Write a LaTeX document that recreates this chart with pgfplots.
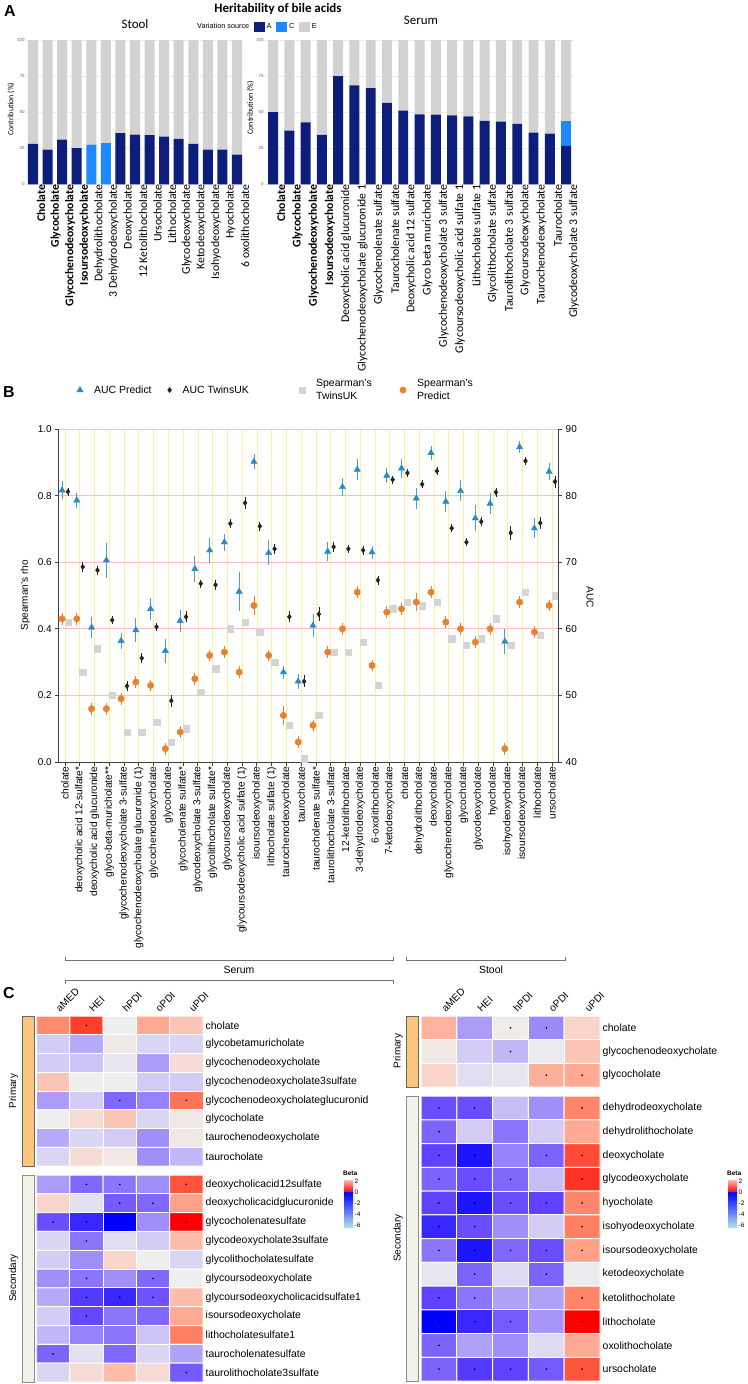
\documentclass[border=0pt]{standalone}
\usepackage{pgfplots}
\pgfplotsset{compat=1.18}
\usepackage{pgfplotstable}
\usepackage{fontspec}
\setmainfont{Liberation Sans}
\newfontfamily\calibri{Carlito}
\newcommand{\fs}[1]{\fontsize{#1}{#1}\selectfont}
\definecolor{cA}{RGB}{13,29,122}
\definecolor{cC}{RGB}{30,136,255}
\definecolor{cE}{RGB}{210,210,210}
\definecolor{triB}{RGB}{38,139,204}
\definecolor{triE}{RGB}{70,160,215}
\definecolor{orgS}{RGB}{233,128,46}
\definecolor{grS}{RGB}{212,212,212}
\definecolor{dia}{RGB}{35,35,35}
\definecolor{pinkG}{RGB}{240,190,215}
\definecolor{yelG}{RGB}{255,240,150}
\definecolor{annP}{RGB}{250,198,125}
\definecolor{annS}{RGB}{242,242,232}
\definecolor{pinkL}{RGB}{255,178,178}
\definecolor{cyanL}{RGB}{176,222,232}
\definecolor{lavM}{RGB}{150,135,250}
\pgfplotsset{colormap={beta}{rgb255=(0,0,255) rgb255=(95,65,255) rgb255=(150,130,250) rgb255=(205,196,245) rgb255=(238,238,238) rgb255=(250,206,192) rgb255=(255,160,135) rgb255=(255,105,75) rgb255=(255,0,0)}}

% ---------- Panel A data ----------
\pgfplotstableread{
i A C E
0 28 0 72
1 24 0 76
2 31 0 69
3 25 0 75
4 0 27.5 72.5
5 0 28.5 71.5
6 35.5 0 64.5
7 34.5 0 65.5
8 34 0 66
9 33 0 67
10 31.5 0 68.5
11 28 0 72
12 24 0 76
13 24 0 76
14 20.5 0 79.5
}\stoolA
\pgfplotstableread{
i A C E
0 50 0 50
1 37.2 0 62.8
2 43 0 57
3 34.2 0 65.8
4 75 0 25
5 68.6 0 31.4
6 66.7 0 33.3
7 56.4 0 43.6
8 51 0 49
9 48.5 0 51.5
10 48.3 0 51.7
11 47.8 0 52.2
12 47.1 0 52.9
13 43.9 0 56.1
14 43.4 0 56.6
15 41.8 0 58.2
16 35.8 0 64.2
17 35.1 0 64.9
18 26.6 17 56.4
}\serumA

% ---------- Panel B data ----------
\pgfplotstableread{
i v
1 0.42
2 0.27
3 0.34
4 0.20
5 0.09
6 0.09
7 0.12
8 0.06
9 0.10
10 0.21
11 0.28
12 0.40
13 0.42
14 0.39
15 0.30
16 0.11
17 0.01
18 0.14
19 0.33
20 0.33
21 0.36
22 0.23
23 0.46
24 0.48
25 0.47
26 0.48
27 0.37
28 0.35
29 0.37
30 0.43
31 0.35
32 0.51
33 0.38
34 0.50
}\grayT
\pgfplotstableread{
i v e
1 0.43 0.01
2 0.43 0.01
3 0.16 0.01
4 0.16 0.01
5 0.19 0.01
6 0.24 0.01
7 0.23 0.01
8 0.04 0.01
9 0.09 0.01
10 0.25 0.01
11 0.32 0.01
12 0.33 0.01
13 0.27 0.01
14 0.47 0.02
15 0.32 0.01
16 0.14 0.02
17 0.06 0.01
18 0.11 0.01
19 0.33 0.01
20 0.40 0.01
21 0.51 0.01
22 0.29 0.01
23 0.45 0.01
24 0.46 0.01
25 0.48 0.02
26 0.51 0.01
27 0.42 0.01
28 0.40 0.01
29 0.36 0.01
30 0.40 0.01
31 0.04 0.01
32 0.48 0.01
33 0.39 0.01
34 0.47 0.01
}\orgT
\pgfplotstableread{
i v e
1 80.8 1.0
2 79.3 0.75
3 60.2 1.2
4 70.3 2.25
5 58.2 0.85
6 59.8 1.4
7 63.0 1.25
8 56.7 1.4
9 61.2 1.3
10 69.0 1.6
11 71.8 1.5
12 73.0 0.9
13 65.6 2.6
14 85.1 0.8
15 71.4 1.5
16 53.5 0.6
17 52.1 0.7
18 60.5 1.35
19 71.6 1.1
20 81.3 1.0
21 83.9 1.25
22 71.5 0.6
23 83.0 0.8
24 84.1 1.05
25 79.6 1.2
26 86.4 0.7
27 79.1 1.2
28 80.7 1.2
29 76.6 1.6
30 78.8 1.15
31 58.1 1.5
32 87.3 0.5
33 75.1 1.15
34 83.6 0.85
}\triT
\pgfplotstableread{
i v e
1 80.6 0.3
2 69.3 0.5
3 68.8 0.4
4 61.3 0.3
5 51.4 0.5
6 55.6 0.4
7 60.3 0.3
8 49.2 0.6
9 61.8 0.5
10 66.8 0.3
11 66.6 0.5
12 75.8 0.4
13 78.9 0.6
14 75.4 0.4
15 72.0 0.4
16 61.8 0.5
17 52.1 0.6
18 62.2 0.7
19 72.3 0.5
20 72.0 0.3
21 71.8 0.4
22 67.3 0.4
23 82.4 0.3
24 83.4 0.3
25 81.7 0.3
26 83.7 0.3
27 75.1 0.3
28 73.0 0.3
29 76.1 0.4
30 80.5 0.4
31 74.4 0.8
32 85.2 0.3
33 75.9 0.6
34 82.1 0.6
}\diaT

% ---------- Panel C data ----------
\pgfplotstableread[row sep=\\]{
x y v\\
0 0 0.6\\ 1 0 0.85\\ 2 0 0\\ 3 0 0.45\\ 4 0 0.3\\
0 1 -0.2\\ 1 1 -0.35\\ 2 1 0.05\\ 3 1 -0.15\\ 4 1 -0.15\\
0 2 -0.2\\ 1 2 -0.25\\ 2 2 -0.05\\ 3 2 -0.4\\ 4 2 0.15\\
0 3 0.3\\ 1 3 0\\ 2 3 0\\ 3 3 -0.2\\ 4 3 -0.2\\
0 4 -0.4\\ 1 4 -0.2\\ 2 4 -0.6\\ 3 4 -0.5\\ 4 4 0.7\\
0 5 0\\ 1 5 0.15\\ 2 5 0.3\\ 3 5 -0.15\\ 4 5 0.05\\
0 6 -0.35\\ 1 6 -0.15\\ 2 6 -0.2\\ 3 6 -0.45\\ 4 6 0.05\\
0 7 -0.15\\ 1 7 0.15\\ 2 7 0.05\\ 3 7 -0.45\\ 4 7 -0.3\\
}\hmSerP
\pgfplotstableread[row sep=\\]{
x y\\ 1 0\\ 2 4\\ 4 4\\
}\stSerP
\pgfplotstableread[row sep=\\]{
x y v\\
0 0 -0.4\\ 1 0 -0.6\\ 2 0 -0.55\\ 3 0 -0.45\\ 4 0 0.8\\
0 1 0.2\\ 1 1 -0.08\\ 2 1 -0.65\\ 3 1 -0.6\\ 4 1 0.5\\
0 2 -0.7\\ 1 2 -0.85\\ 2 2 -1\\ 3 2 -0.45\\ 4 2 1\\
0 3 -0.15\\ 1 3 -0.55\\ 2 3 -0.1\\ 3 3 -0.2\\ 4 3 0.35\\
0 4 -0.2\\ 1 4 -0.45\\ 2 4 0.2\\ 3 4 0\\ 4 4 -0.15\\
0 5 -0.45\\ 1 5 -0.55\\ 2 5 -0.45\\ 3 5 -0.6\\ 4 5 0\\
0 6 -0.35\\ 1 6 -0.78\\ 2 6 -0.85\\ 3 6 -0.68\\ 4 6 0.35\\
0 7 -0.2\\ 1 7 -0.72\\ 2 7 -0.55\\ 3 7 -0.6\\ 4 7 0.45\\
0 8 -0.3\\ 1 8 -0.5\\ 2 8 -0.55\\ 3 8 -0.25\\ 4 8 0.65\\
0 9 -0.62\\ 1 9 -0.08\\ 2 9 -0.6\\ 3 9 -0.15\\ 4 9 -0.38\\
0 10 -0.15\\ 1 10 0.15\\ 2 10 0.35\\ 3 10 0.15\\ 4 10 -0.65\\
}\hmSerS
\pgfplotstableread[row sep=\\]{
x y\\ 1 0\\ 2 0\\ 4 0\\ 2 1\\ 3 1\\ 0 2\\ 1 2\\ 2 2\\ 4 2\\ 1 3\\ 1 5\\ 3 5\\ 1 6\\ 2 6\\ 3 6\\ 1 7\\ 0 9\\ 4 10\\
}\stSerS
\pgfplotstableread[row sep=\\]{
x y v\\
0 0 0.4\\ 1 0 -0.4\\ 2 0 0.02\\ 3 0 -0.47\\ 4 0 0.2\\
0 1 0.05\\ 1 1 -0.2\\ 2 1 -0.3\\ 3 1 -0.02\\ 4 1 0.3\\
0 2 0.2\\ 1 2 -0.1\\ 2 2 -0.05\\ 3 2 0.42\\ 4 2 0.45\\
}\hmStoP
\pgfplotstableread[row sep=\\]{
x y\\ 2 0\\ 3 0\\ 2 1\\ 3 2\\ 4 2\\
}\stStoP
\pgfplotstableread[row sep=\\]{
x y v\\
0 0 -0.7\\ 1 0 -0.7\\ 2 0 -0.28\\ 3 0 -0.45\\ 4 0 0.62\\
0 1 -0.62\\ 1 1 -0.2\\ 2 1 -0.55\\ 3 1 -0.2\\ 4 1 0.45\\
0 2 -0.75\\ 1 2 -0.92\\ 2 2 -0.5\\ 3 2 -0.62\\ 4 2 0.82\\
0 3 -0.62\\ 1 3 -0.7\\ 2 3 -0.6\\ 3 3 -0.28\\ 4 3 0.88\\
0 4 -0.75\\ 1 4 -0.92\\ 2 4 -0.7\\ 3 4 -0.75\\ 4 4 0.62\\
0 5 -0.85\\ 1 5 -0.7\\ 2 5 -0.45\\ 3 5 -0.2\\ 4 5 0.65\\
0 6 -0.55\\ 1 6 -0.92\\ 2 6 -0.6\\ 3 6 -0.7\\ 4 6 0.5\\
0 7 -0.05\\ 1 7 -0.62\\ 2 7 -0.12\\ 3 7 -0.62\\ 4 7 -0.02\\
0 8 -0.75\\ 1 8 -0.55\\ 2 8 -0.38\\ 3 8 -0.38\\ 4 8 0.62\\
0 9 -1\\ 1 9 -0.85\\ 2 9 -0.65\\ 3 9 -0.42\\ 4 9 1\\
0 10 -0.62\\ 1 10 -0.38\\ 2 10 -0.45\\ 3 10 -0.12\\ 4 10 0.45\\
0 11 -0.62\\ 1 11 -0.78\\ 2 11 -0.75\\ 3 11 -0.65\\ 4 11 0.8\\
}\hmStoS
\pgfplotstableread[row sep=\\]{
x y\\ 0 0\\ 1 0\\ 4 0\\ 0 1\\ 0 2\\ 1 2\\ 3 2\\ 4 2\\ 0 3\\ 1 3\\ 2 3\\ 4 3\\ 0 4\\ 1 4\\ 2 4\\ 3 4\\ 4 4\\ 0 5\\ 1 5\\ 4 5\\ 0 6\\ 1 6\\ 2 6\\ 3 6\\ 4 6\\ 1 7\\ 3 7\\ 0 8\\ 1 8\\ 4 8\\ 0 9\\ 1 9\\ 2 9\\ 4 9\\ 0 10\\ 0 11\\ 1 11\\ 2 11\\ 3 11\\ 4 11\\
}\stStoS

\pgfplotsset{
 hm/.style={scale only axis, anchor=north west, xmin=-0.5, xmax=4.5, y dir=reverse,
   enlargelimits=false, axis line style={draw=none}, major tick length=0pt,
   point meta min=-1, point meta max=1, colormap name=beta,
   yticklabel pos=right, yticklabel style={font=\fs{10.5}, anchor=west, inner sep=0pt, xshift=2.5bp},
   xtick={0,...,4}, xticklabels={aMED,HEI,hPDI,oPDI,uPDI}, xticklabel pos=upper,
   xticklabel style={font=\fs{10.2}, xshift=7bp, yshift=3bp, rotate=45, anchor=south west, inner sep=0pt}},
 hmcell/.style={matrix plot*, shader=faceted, faceted color=white, line width=1bp, mesh/cols=5, point meta=explicit},
 hmstar/.style={only marks, mark=*, mark size=0.6bp, black},
}

\begin{document}
\begin{tikzpicture}
\path[use as bounding box] (0,0) rectangle (748bp,-1384bp);
\fill[white] (0,0) rectangle (748bp,-1384bp);

% ================= Panel A =================
\node[font=\bfseries\fs{16}] at (10bp,-11bp) {A};
\node[font=\calibri\bfseries\fs{13}] at (278bp,-9bp) {Heritability of bile acids};
\node[font=\calibri\fs{13}] at (135bp,-24bp) {Stool};
\node[font=\calibri\fs{13}] at (421bp,-20.5bp) {Serum};

\begin{axis}[scale only axis, width=218.6bp, height=144.3bp, at={(25.7bp,-40bp)}, anchor=north west,
  ybar stacked, bar width=0.69, xmin=-0.5, xmax=14.5, ymin=0, ymax=100,
  axis line style={draw=none}, major tick length=0pt,
  xmajorgrids, ymajorgrids, grid style={black!8, line width=0.4bp},
  xtick={0,...,14},
  xticklabels={\textbf{Cholate},\textbf{Glycocholate},\textbf{Glycochenodeoxycholate},\textbf{Isoursodeoxycholate},Dehydrolithocholate,3 Dehydrodeoxycholate,Deoxycholate,12 Ketolithocholate,Ursocholate,Lithocholate,Glycodeoxycholate,Ketodeoxycholate,Isohyodeoxycholate,Hyocholate,6 oxolithocholate},
  xticklabel style={rotate=90, anchor=east, font=\calibri\fs{11.8}, inner sep=0pt, yshift=-8bp},
  ytick={0,25,50,75,100}, /pgf/number format/assume math mode=true,
  yticklabel style={font=\fs{4.5}, text=black!60, inner sep=1bp},
  ylabel={Contribution (\%)}, ylabel style={font=\calibri\fs{8}, at={(axis description cs:-0.067,0.52)}, anchor=center},
]
\addplot[fill=cA, draw=none] table[x=i, y=A] {\stoolA};
\addplot[fill=cC, draw=none] table[x=i, y=C] {\stoolA};
\addplot[fill=cE, draw=none] table[x=i, y=E] {\stoolA};
\end{axis}

\begin{axis}[scale only axis, width=309.3bp, height=144.3bp, at={(264.9bp,-40bp)}, anchor=north west,
  ybar stacked, bar width=0.61, xmin=-0.5, xmax=18.5, ymin=0, ymax=100,
  axis line style={draw=none}, major tick length=0pt,
  xmajorgrids, ymajorgrids, grid style={black!8, line width=0.4bp},
  xtick={0,...,18},
  xticklabels={\textbf{Cholate},\textbf{Glycocholate},\textbf{Glycochenodeoxycholate},\textbf{Isoursodeoxycholate},Deoxycholic acid glucuronide,Glycochenodeoxycholate glucuronide 1,Glycochenolenate sulfate,Taurocholenate sulfate,Deoxycholic acid 12 sulfate,Glyco beta muricholate,Glycochenodeoxycholate 3 sulfate,Glycoursodeoxycholic acid sulfate 1,Lithocholate sulfate 1,Glycolithocholate sulfate,Taurolithocholate 3 sulfate,Glycoursodeoxycholate,Taurochenodeoxycholate,Taurocholate,Glycodeoxycholate 3 sulfate},
  xticklabel style={rotate=90, anchor=east, font=\calibri\fs{11.8}, inner sep=0pt, yshift=-8bp},
  ytick={0,25,50,75,100}, /pgf/number format/assume math mode=true,
  yticklabel style={font=\fs{4.5}, text=black!60, inner sep=1bp},
  ylabel={Contribution (\%)}, ylabel style={font=\calibri\fs{8}, at={(axis description cs:-0.0466,0.53)}, anchor=center},
  legend columns=4,
  legend style={draw=none, fill=none, at={(axis description cs:-0.226,1.09)}, anchor=west, font=\fs{7.3},
     inner sep=0pt, cells={anchor=west}, /tikz/every even column/.append style={column sep=2.5bp}},
]
\addlegendimage{empty legend}\addlegendentry{Variation source}
\addplot[fill=cA, draw=none, legend image code/.code={\fill[cA] (0bp,-5bp) rectangle (11bp,5bp);}] table[x=i, y=A] {\serumA};
\addlegendentry{A}
\addplot[fill=cC, draw=none, legend image code/.code={\fill[cC] (0bp,-5bp) rectangle (11bp,5bp);}] table[x=i, y=C] {\serumA};
\addlegendentry{C}
\addplot[fill=cE, draw=none, legend image code/.code={\fill[cE] (0bp,-5bp) rectangle (11bp,5bp);}] table[x=i, y=E] {\serumA};
\addlegendentry{E}
\end{axis}

% ================= Panel B =================
\node[font=\bfseries\fs{16}] at (9bp,-392bp) {B};

\begin{axis}[scale only axis, width=500bp, height=333bp, at={(58.7bp,-429bp)}, anchor=north west,
  xmin=0.573, xmax=34.45, ymin=0, ymax=1,
  axis x line*=bottom, axis y line*=left,
  axis line style={draw=black!75, line width=0.8bp},
  tick style={draw=black!75, line width=0.8bp},
  tick align=outside, major tick length=3.5bp,
  xtick={1,...,34},
  xticklabels={cholate,deoxycholic acid 12-sulfate*,deoxycholic acid glucuronide,glyco-beta-muricholate**,glycochenodeoxycholate 3-sulfate,glycochenodeoxycholate glucuronide (1),glycochenodeoxycholate,glycocholate,glycocholenate sulfate*,glycodeoxycholate 3-sulfate,glycolithocholate sulfate*,glycoursodeoxycholate,glycoursodeoxycholic acid sulfate (1),isoursodeoxycholate,lithocholate sulfate (1),taurochenodeoxycholate,taurocholate,taurocholenate sulfate*,taurolithocholate 3-sulfate,12-ketolithocholate,3-dehydrodeoxycholate,6-oxolithocholate,7-ketodeoxycholate,cholate,dehydrolithocholate,deoxycholate,glycochenodeoxycholate,glycocholate,glycodeoxycholate,hyocholate,isohyodeoxycholate,isoursodeoxycholate,lithocholate,ursocholate},
  xticklabel style={rotate=90, anchor=east, font=\fs{10.2}, inner sep=1bp},
  ytick={0,0.2,0.4,0.6,0.8,1}, /pgf/number format/assume math mode=true,
  yticklabel style={font=\fs{10}, /pgf/number format/fixed, /pgf/number format/fixed zerofill, /pgf/number format/precision=1},
  ylabel={Spearman's rho}, ylabel style={font=\fs{10}, at={(axis description cs:-0.067,0.5)}, anchor=center},
  xmajorgrids, ymajorgrids,
  major x grid style={yelG, line width=0.6bp},
  major y grid style={pinkG, line width=0.8bp},
]
\addplot[only marks, mark=square*, mark size=3.2bp, color=grS] table[x expr=\thisrow{i}+0.2, y=v] {\grayT};
\addplot[only marks, mark=*, mark size=3.2bp, color=orgS,
  error bars/.cd, y dir=both, y explicit, error bar style={color=orgS, line width=0.8bp}, error mark options={color=orgS, mark size=2.5bp, line width=0.8bp}]
  table[x expr=\thisrow{i}-0.2, y=v, y error=e] {\orgT};
\end{axis}

\begin{axis}[scale only axis, width=500bp, height=333bp, at={(58.7bp,-429bp)}, anchor=north west,
  xmin=0.573, xmax=34.45, ymin=40, ymax=90,
  axis y line*=right, axis x line=none,
  axis line style={draw=black!75, line width=0.8bp},
  tick style={draw=black!75, line width=0.8bp},
  tick align=outside, major tick length=3.5bp,
  ytick={40,50,60,70,80,90}, /pgf/number format/assume math mode=true,
  yticklabel style={font=\fs{10}},
  ylabel={AUC}, ylabel style={font=\fs{10}, at={(axis description cs:1.0626,0.495)}, anchor=center, rotate=180},
  legend columns=4,
  legend style={draw=none, fill=none, at={(axis description cs:0.03,1.117)}, anchor=west,
    font=\fontsize{10.5}{12.5}\selectfont, cells={anchor=west, align=left},
    /tikz/every odd column/.append style={column sep=9bp},
    /tikz/column 2/.style={column sep=14bp}, /tikz/column 4/.style={column sep=48bp}, /tikz/column 6/.style={column sep=26bp}},
]
\addplot[only marks, mark=triangle*, mark size=3.6bp, color=triB,
  error bars/.cd, y dir=both, y explicit, error bar style={color=triE, line width=0.8bp}, error mark options={color=triE, mark size=2.5bp, line width=0.8bp}]
  table[x expr=\thisrow{i}-0.2, y=v, y error=e] {\triT};
\addlegendentry{AUC Predict}
\addplot[only marks, mark=diamond*, mark size=2.6bp, color=dia,
  error bars/.cd, y dir=both, y explicit, error bar style={color=dia, line width=0.7bp}, error mark options={color=dia, mark size=2bp, line width=0.7bp}]
  table[x expr=\thisrow{i}+0.2, y=v, y error=e] {\diaT};
\addlegendentry{AUC TwinsUK}
\addlegendimage{only marks, mark=square*, mark size=3.2bp, color=grS}
\addlegendentry{Spearman's\\TwinsUK}
\addlegendimage{only marks, mark=*, mark size=3.2bp, color=orgS}
\addlegendentry{Spearman's\\Predict}
\end{axis}

% brackets
\draw[black!55, line width=0.9bp] (65bp,-956.5bp) -- (65bp,-960bp) -- (393bp,-960bp) -- (393bp,-956.5bp);
\draw[black!55, line width=0.9bp] (65bp,-983.5bp) -- (65bp,-980bp) -- (393bp,-980bp) -- (393bp,-983.5bp);
\draw[black!55, line width=0.9bp] (406bp,-956.5bp) -- (406bp,-960bp) -- (565bp,-960bp) -- (565bp,-956.5bp);
\node[font=\fs{10.5}] at (239bp,-970bp) {Serum};
\node[font=\fs{10.5}] at (491bp,-970bp) {Stool};

% ================= Panel C =================
\node[font=\bfseries\fs{16}] at (9bp,-993bp) {C};

\begin{axis}[hm, width=166.5bp, height=150bp, at={(36.5bp,-1016bp)}, ymin=-0.5, ymax=7.5,
  ytick={0,...,7}, yticklabels={cholate,glycobetamuricholate,glycochenodeoxycholate,glycochenodeoxycholate3sulfate,glycochenodeoxycholateglucuronid,glycocholate,taurochenodeoxycholate,taurocholate}]
\addplot[hmcell] table[meta=v] {\hmSerP};
\addplot[hmstar] table {\stSerP};
\end{axis}
\begin{axis}[hm, width=166.5bp, height=207bp, at={(36.5bp,-1175bp)}, ymin=-0.5, ymax=10.5, xtick=\empty,
  ytick={0,...,10}, yticklabels={deoxycholicacid12sulfate,deoxycholicacidglucuronide,glycocholenatesulfate,glycodeoxycholate3sulfate,glycolithocholatesulfate,glycoursodeoxycholate,glycoursodeoxycholicacidsulfate1,isoursodeoxycholate,lithocholatesulfate1,taurocholenatesulfate,taurolithocholate3sulfate}]
\addplot[hmcell] table[meta=v] {\hmSerS};
\addplot[hmstar] table {\stSerS};
\end{axis}
\begin{axis}[hm, width=179bp, height=71bp, at={(421bp,-1016bp)}, ymin=-0.5, ymax=2.5,
  ytick={0,1,2}, yticklabels={cholate,glycochenodeoxycholate,glycocholate}]
\addplot[hmcell] table[meta=v] {\hmStoP};
\addplot[hmstar] table {\stStoP};
\end{axis}
\begin{axis}[hm, width=179bp, height=285bp, at={(421bp,-1096bp)}, ymin=-0.5, ymax=11.5, xtick=\empty,
  ytick={0,...,11}, yticklabels={dehydrodeoxycholate,dehydrolithocholate,deoxycholate,glycodeoxycholate,hyocholate,isohyodeoxycholate,isoursodeoxycholate,ketodeoxycholate,ketolithocholate,lithocholate,oxolithocholate,ursocholate}]
\addplot[hmcell] table[meta=v] {\hmStoS};
\addplot[hmstar] table {\stStoS};
\end{axis}

% annotation bars
\draw[fill=annP, draw=black!60, line width=0.8bp] (22.7bp,-1016bp) rectangle (34bp,-1166bp);
\draw[fill=annS, draw=black!45, line width=0.8bp] (22.7bp,-1175bp) rectangle (34bp,-1382bp);
\node[rotate=90, font=\fs{10}] at (13.5bp,-1091bp) {Primary};
\node[rotate=90, font=\fs{10}] at (13.5bp,-1278bp) {Secondary};
\draw[fill=annP, draw=black!60, line width=0.8bp] (406.7bp,-1016bp) rectangle (418.3bp,-1087bp);
\draw[fill=annS, draw=black!45, line width=0.8bp] (406.7bp,-1096bp) rectangle (418.3bp,-1381bp);
\node[rotate=90, font=\fs{10}] at (398bp,-1051bp) {Primary};
\node[rotate=90, font=\fs{10}] at (398bp,-1238bp) {Secondary};

% colour keys
\foreach \cx in {344,728} {
  \shade[top color=pinkL, bottom color=red] (\cx bp,-1180bp) rectangle ({\cx bp+9bp},-1192.5bp);
  \shade[top color=blue, middle color=lavM, bottom color=cyanL] (\cx bp,-1192.5bp) rectangle ({\cx bp+9bp},-1227bp);
  \node[font=\bfseries\fs{6.5}, anchor=west, inner sep=0pt] at ({\cx bp-1bp},-1173bp) {Beta};
  \foreach \lab/\yy in {2/1181,0/1192.7,-2/1203.7,-4/1214.7,-6/1225.3}
    \node[font=\fs{6.5}, anchor=west, inner sep=0pt] at ({\cx bp+10.5bp},-\yy bp) {\lab};
}
\end{tikzpicture}
\end{document}
